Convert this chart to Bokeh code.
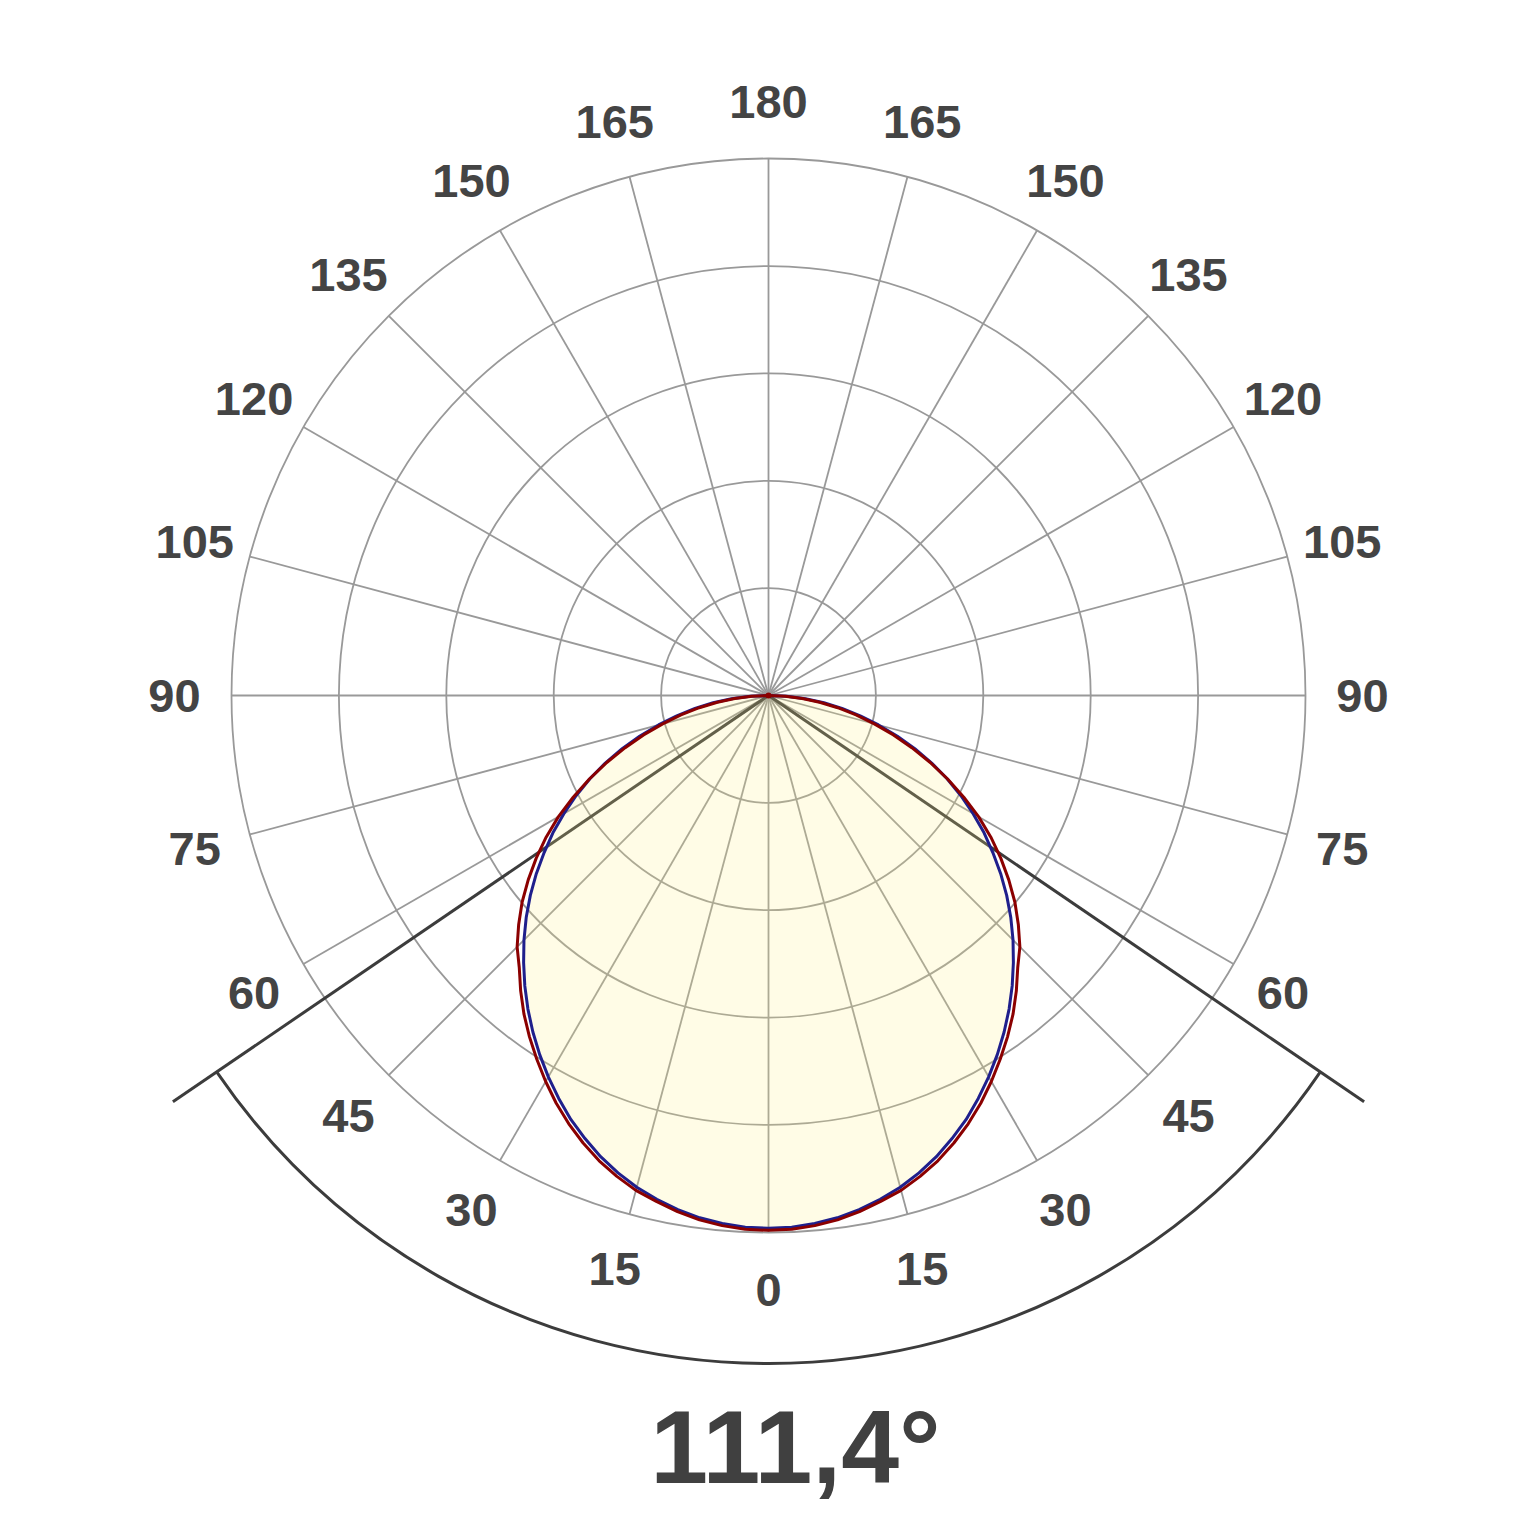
import numpy as np
from bokeh.plotting import figure
from bokeh.models import ColumnDataSource, Range1d
from bokeh.core.properties import value
from bokeh.embed import file_html
from bokeh.resources import INLINE

# ---------------- data ----------------
gamma = [0, 2.5, 5, 7.5, 10, 12.5, 15, 17.5, 20, 22.5, 25, 27.5, 30, 32.5, 35, 37.5,
         40, 42.5, 45, 47.5, 50, 52.5, 55, 57.5, 60, 62.5, 65, 67.5, 70, 72.5, 75,
         77.5, 80, 82.5, 85, 87.5, 90]
c0_c180 = [496, 495.5, 493.5, 490.5, 486, 480.5, 474, 466, 457, 446.5, 435.5, 423, 410,
           396.5, 382.5, 368, 353, 337.5, 322, 306, 289.5, 272.5, 255, 238, 220, 202,
           183.5, 164.5, 145, 125.5, 106, 87.5, 69.5, 52, 34.5, 17, 0]
c90_c270 = [498, 497.5, 495.5, 492.5, 488, 482.5, 477, 469.5, 461, 451, 440, 428, 415,
            401.5, 388, 374, 359, 343.5, 331, 315.5, 299.5, 282, 264, 245.5, 226, 205,
            184, 163, 142, 122, 102, 83.5, 65.5, 48, 31.5, 15.5, 0]
ring_values = [100, 200, 300, 400, 500]
spoke_angles = list(range(0, 360, 15))
tick_angles = [0, 15, 30, 45, 60, 75, 90, 105, 120, 135, 150, 165, 180]
tick_labels = ["0", "15", "30", "45", "60", "75", "90", "105", "120", "135", "150", "165", "180"]
beam_angle = 111.4
beam_label = "111,4\u00b0"

# ---------------- geometry ----------------
RMAX = 500.0
PX = 537.0 / RMAX          # pixels per unit
W, H = 1530, 1520
CX, CY = 768, 695          # centre in figure pixels


def polar(r, g_deg):
    g = np.radians(g_deg)
    return np.asarray(r) * np.sin(g), -np.asarray(r) * np.cos(g)


p = figure(width=W, height=H, output_backend="svg", toolbar_location=None,
           x_range=Range1d(-CX / PX, (W - CX) / PX),
           y_range=Range1d(-(H - CY) / PX, CY / PX),
           min_border=0, outline_line_color=None)
p.axis.visible = False
p.grid.visible = False
p.background_fill_color = "white"

GRID = "#999999"
# rings
for rv in ring_values:
    p.circle(x=0, y=0, radius=rv, fill_color=None, line_color=GRID, line_width=1.8)
# spokes
sx, sy = polar(RMAX, np.array(spoke_angles, dtype=float))
p.multi_line(xs=[[0.0, float(a)] for a in sx], ys=[[0.0, float(b)] for b in sy],
             line_color=GRID, line_width=1.8)

# beam lines and arc
half = beam_angle / 2.0
beam_len = 721.0 / PX
arc_r = 668.0 / PX
bx, by = polar(beam_len, np.array([-half, half]))
p.multi_line(xs=[[0.0, float(bx[0])], [0.0, float(bx[1])]],
             ys=[[0.0, float(by[0])], [0.0, float(by[1])]],
             line_color="#3c3c3c", line_width=3)
p.arc(x=0, y=0, radius=arc_r,
      start_angle=float(np.radians(-90 - half)), end_angle=float(np.radians(-90 + half)),
      line_color="#3c3c3c", line_width=3)

# curves (same values on both half-planes)
g_full = [-g for g in gamma[::-1]] + gamma[1:]
blue_full = c0_c180[::-1] + c0_c180[1:]
red_full = c90_c270[::-1] + c90_c270[1:]
fill_full = [min(a, b) for a, b in zip(blue_full, red_full)]
ga = np.array(g_full, dtype=float)

fx, fy = polar(fill_full, ga)
p.patch(x=fx, y=fy, fill_color="#fff082", fill_alpha=0.2, line_color=None)

bxs, bys = polar(blue_full, ga)
rxs, rys = polar(red_full, ga)
p.line(x=bxs, y=bys, line_color="#1f1f8c", line_width=3, line_join="round")
p.line(x=rxs, y=rys, line_color="#8b0000", line_width=3, line_join="round")
p.circle(x=0, y=0, radius=3.0 / PX, fill_color="#8b0000", line_color=None)

# tick labels
lab_r = 594.0 / PX
lx, ly, lt = [], [], []
for a, t in zip(tick_angles, tick_labels):
    sides = [a] if a in (0, 180) else [-a, a]
    for s in sides:
        x, y = polar(lab_r, s)
        lx.append(float(x)); ly.append(float(y)); lt.append(t)
src = ColumnDataSource(dict(x=lx, y=ly, t=lt))
p.text(x="x", y="y", text="t", source=src, text_align="center", text_baseline="middle",
       text_font=value("Liberation Sans"), text_font_style="bold",
       text_font_size="47px", text_color="#444444")

# beam angle label (font size avoids the "N00px" pattern)
bsrc = ColumnDataSource(dict(x=[(795.0 - CX) / PX], y=[-(1446.0 - CY) / PX], t=[beam_label]))
p.text(x="x", y="y", text="t", source=bsrc, text_align="center", text_baseline="middle",
       text_font=value("Liberation Sans"), text_font_style="bold",
       text_font_size="104px", text_color="#404040")

with open("out.html", "w", encoding="utf-8") as f:
    f.write(file_html(p, INLINE))
